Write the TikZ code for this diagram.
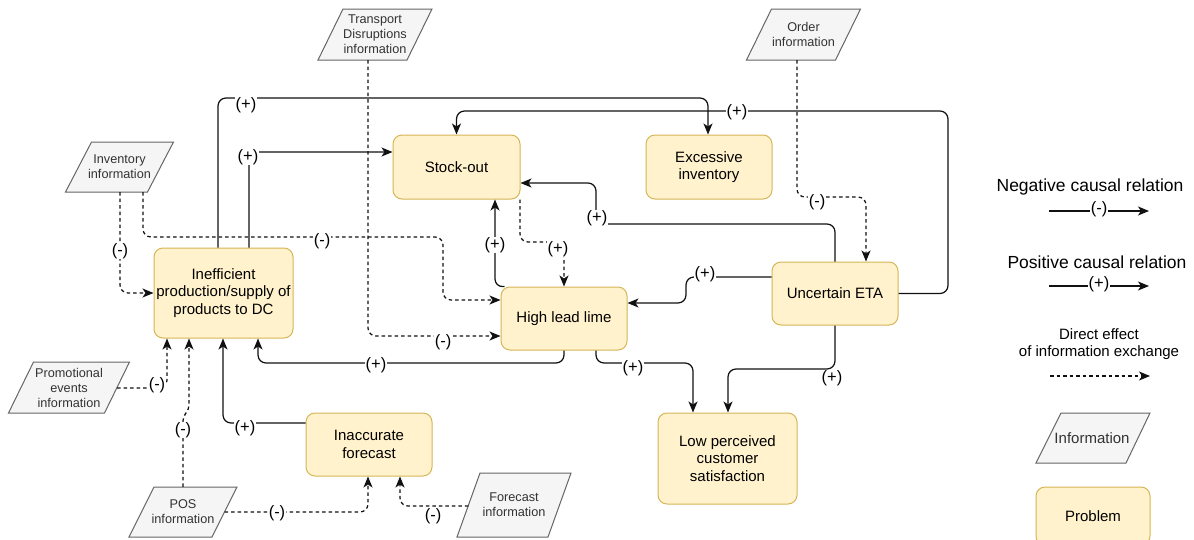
\documentclass[tikz,border=0pt]{standalone}
\usepackage{fontspec}
\setmainfont{Liberation Sans}
\usetikzlibrary{arrows.meta}
\definecolor{probfill}{HTML}{FFF2CC}
\definecolor{probline}{HTML}{D6B656}
\definecolor{infofill}{HTML}{F5F5F5}
\definecolor{infoline}{HTML}{666666}
\definecolor{infotext}{HTML}{333333}
\definecolor{wire}{HTML}{111111}

% info shape: name, cx, cy, bottom width, height, skew, text
\newcommand\infoshape[7]{%
  \draw[infoborder] (#2-#4/2-#6/2, #3+#5/2) -- ++(#4,0) -- ++(#6,-#5) -- ++(-#4,0) -- cycle;
  \node[infotxt, minimum width=#4pt, minimum height=#5pt] (#1) at (#2,#3) {#7};
}

\tikzset{
  prob/.style={draw=probline, fill=probfill, line width=1pt, rounded corners=9pt,
    align=center, inner sep=1pt, font=\fontsize{15}{17.7}\selectfont, text=black},
  infoborder/.style={draw=infoline, fill=infofill, line width=1pt},
  infotxt/.style={align=center, inner sep=0pt, text=infotext, font=\fontsize{12.7}{15}\selectfont},
  causal/.style={draw=wire, line width=1.25pt, rounded corners=8pt,
    -{Stealth[length=11pt, width=9pt, inset=3pt]}},
  infolink/.style={causal, dash pattern=on 3.5pt off 3pt},
  lbl/.style={fill=white, inner sep=0.5pt, font=\fontsize{16.5}{17}\selectfont},
  legtext/.style={align=center, font=\fontsize{17.5}{20}\selectfont},
}

\begin{document}
\begin{tikzpicture}[x=1pt, y=-1pt]
\path[use as bounding box, clip] (0,0) rectangle (1194,539);
\fill[white] (0,0) rectangle (1194,539);

% problems
\node[prob, minimum width=139pt, minimum height=90pt] (ineff) at (223.5,293) {Inefficient\\production/supply of\\products to DC};
\node[prob, minimum width=127pt, minimum height=64pt] (stock) at (456.5,167) {Stock-out};
\node[prob, minimum width=126pt, minimum height=64pt] (excess) at (709,167) {Excessive\\inventory};
\node[prob, minimum width=126pt, minimum height=63pt] (hlt) at (564,318.5) {High lead lime};
\node[prob, minimum width=126pt, minimum height=63pt] (eta) at (835,293.5) {Uncertain ETA};
\node[prob, minimum width=126pt, minimum height=63pt] (inacc) at (369,444.5) {Inaccurate\\forecast};
\node[prob, minimum width=139pt, minimum height=91pt] (lowsat) at (727.5,458.5) {Low perceived\\customer\\satisfaction};

% information sources
\infoshape{trans}{375}{34.5}{89}{51}{25}{Transport\\Disruptions\\information}
\infoshape{order}{803.5}{34.5}{89}{51}{25}{Order\\information}
\infoshape{inv}{119.5}{167}{82}{50}{26}{Inventory\\information}
\infoshape{promo}{69}{387.5}{96}{51}{25}{Promotional\\events\\information}
\infoshape{pos}{183}{512}{83}{50}{25}{POS\\information}
\infoshape{fcst}{514}{505}{91}{64}{23}{Forecast\\information}

% causal relations
\draw[causal] ([xshift=-5.5pt]ineff.north) -- (218,98) -- (708,98) -- ([xshift=-1pt]excess.north);
\draw[causal] ([xshift=25.5pt]ineff.north) |- ([yshift=15pt]stock.west);
\draw[causal] (eta.east) -- (948,293.5) -- (948,111) -- (456.5,111) -- (stock.north);
\draw[causal] (eta.north) -- (835,224) -- (596,224) -- (596,183) -- ([yshift=-16pt]stock.east);
\draw[causal] ([xshift=4pt]hlt.north west) -- (495,287) -- ([xshift=38.5pt]stock.south);
\draw[causal] ([yshift=16.5pt]eta.west) -- (686,277) -- (686,303) -- ([yshift=15.5pt]hlt.east);
\draw[causal] (hlt.south) -- (564,363) -- (258,363) -- ([xshift=34.5pt]ineff.south);
\draw[causal] ([xshift=32pt]hlt.south) -- (596,363) -- (693,363) -- ([xshift=-34.5pt]lowsat.north);
\draw[causal] (eta.south) -- (835,369) -- (728,369) -- ([xshift=0.5pt]lowsat.north);
\draw[causal] ([yshift=21.5pt]inacc.west) -| ([xshift=-0.5pt]ineff.south);

% effects of information exchange
\draw[infolink] ([xshift=63.5pt]stock.south) -- (520,242) -- (564,242) -- (hlt.north);
\draw[infolink] ([xshift=0.5pt]inv.south) |- (ineff.west);
\draw[infolink] ([xshift=23.5pt]inv.south) -- (143,237) -- (443,237) -- (443,300) -- ([yshift=18.5pt]hlt.west);
\draw[infolink] ([xshift=-7pt]trans.south) |- ([yshift=-17.5pt]hlt.west);
\draw[infolink] ([xshift=-6.5pt]order.south) -- (797,197) -- (866,197) -- ([xshift=31pt]eta.north);
\draw[infolink] ([yshift=-0.5pt]promo.east) -| ([xshift=-56.5pt]ineff.south);
\draw[infolink, rounded corners=4pt] (pos.north) -- (183,417) -- (189,409) -- ([xshift=-34.5pt]ineff.south);
\draw[infolink] (pos.east) -| ([xshift=-1pt]inacc.south);
\draw[infolink] ([yshift=-1pt]fcst.west) -| ([xshift=31pt]inacc.south);

% relation labels
\node[lbl] (l1) at (246,105) {(+)};
\node[lbl] (l2) at (248,157) {(+)};
\node[lbl] (l3) at (737,112) {(+)};
\node[lbl] (l4) at (597,218) {(+)};
\node[lbl] (l5) at (495,245) {(+)};
\node[lbl] (l6) at (558,249) {(+)};
\node[lbl] (l7) at (120,251) {(-)};
\node[lbl] (l8) at (322,241) {(-)};
\node[lbl] (l9) at (443,342) {(-)};
\node[lbl] (l10) at (817,202) {(-)};
\node[lbl] (l11) at (705,274) {(+)};
\node[lbl] (l12) at (376,365) {(+)};
\node[lbl] (l13) at (633,368) {(+)};
\node[lbl] (l14) at (832,378) {(+)};
\node[lbl] (l15) at (245,428) {(+)};
\node[lbl] (l16) at (157,385) {(-)};
\node[lbl] (l17) at (183,430) {(-)};
\node[lbl] (l18) at (277,513) {(-)};
\node[lbl] (l19) at (433,516) {(-)};

% legend
\node[legtext] (legneg) at (1090,187) {Negative causal relation};
\coordinate (n1) at (1049,211);
\coordinate (n2) at (1149,211);
\draw[causal] (n1) -- (n2);
\node[lbl] (lnl) at (1099,209) {(-)};

\node[legtext] (legpos) at (1097,262) {Positive causal relation};
\coordinate (p1) at (1049,286);
\coordinate (p2) at (1149,286);
\draw[causal] (p1) -- (p2);
\node[lbl] (lpl) at (1099,284) {(+)};

\node[align=center, font=\fontsize{15}{17.5}\selectfont] (legdir) at (1099,344) {Direct effect\\of information exchange};
\coordinate (d1) at (1050,376);
\coordinate (d2) at (1150,376);
\draw[infolink] (d1) -- (d2);

\draw[infoborder] (1036,463) -- (1126,463) -- (1150,413) -- (1061,413) -- cycle;
\node[text=infotext, font=\fontsize{15}{17}\selectfont] (leginfo) at (1092,438) {Information};
\node[prob, minimum width=114pt, minimum height=58pt] (legprob) at (1093,516) {Problem};
\end{tikzpicture}
\end{document}
